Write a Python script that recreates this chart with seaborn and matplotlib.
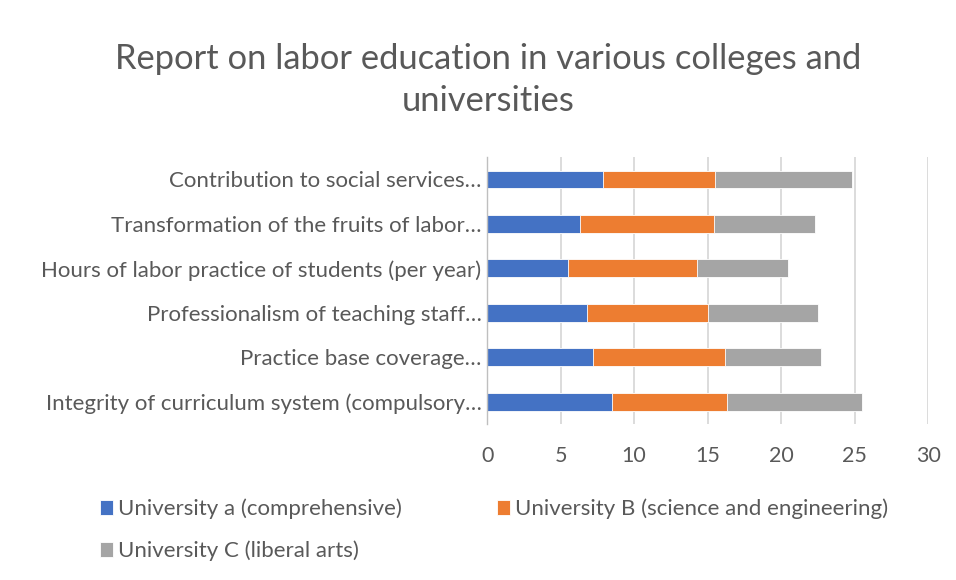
import matplotlib
matplotlib.use("Agg")
import matplotlib.pyplot as plt
from matplotlib.patches import Rectangle
from matplotlib.legend_handler import HandlerPatch
import seaborn as sns
import pandas as pd
import numpy as np

categories = [
    "Contribution to social services…",
    "Transformation of the fruits of labor…",
    "Hours of labor practice of students (per year)",
    "Professionalism of teaching staff…",
    "Practice base coverage…",
    "Integrity of curriculum system (compulsory…",
]
univ_a = [7.9, 6.3, 5.5, 6.8, 7.2, 8.5]
univ_b = [7.6, 9.1, 8.8, 8.2, 9.0, 7.8]
univ_c = [9.3, 6.9, 6.2, 7.5, 6.5, 9.2]
series_names = ["University a (comprehensive)",
                "University B (science and engineering)",
                "University C (liberal arts)"]
colors = ["#4472C4", "#ED7D31", "#A5A5A5"]

sns.set_theme(style="white")
plt.rcParams['font.family'] = ['Lato', 'DejaVu Sans']
text_color = "#595959"

df = pd.DataFrame({"cat": categories, "a": univ_a, "b": univ_b, "c": univ_c})
df["ab"] = df["a"] + df["b"]
df["abc"] = df["ab"] + df["c"]

fig = plt.figure(figsize=(9.56, 5.8), dpi=100)
ax = fig.add_axes([0.5095, 0.269, 0.4614, 0.46])

for col, color, name in [("abc", colors[2], series_names[2]),
                         ("ab", colors[1], series_names[1]),
                         ("a", colors[0], series_names[0])]:
    sns.barplot(data=df, y="cat", x=col, order=categories, color=color,
                width=0.4, ax=ax, label=name, edgecolor="white", linewidth=0.6,
                saturation=1)

ax.set_xlim(0, 30)
ax.set_xticks([0, 5, 10, 15, 20, 25, 30])
ax.set_xlabel("")
ax.set_ylabel("")
ax.grid(axis="x", color="#D9D9D9", linewidth=1.3)
ax.set_axisbelow(True)
for s in ["top", "right", "bottom"]:
    ax.spines[s].set_visible(False)
ax.spines["left"].set_color("#BFBFBF")
ax.spines["left"].set_linewidth(1.0)
ax.tick_params(axis="x", length=0, pad=16, labelsize=15.5, labelcolor=text_color)
ax.tick_params(axis="y", length=0, pad=4, labelsize=16, labelcolor=text_color)

fig.suptitle("Report on labor education in various colleges and\nuniversities",
             x=0.511, y=0.926, fontsize=24.8, color=text_color, linespacing=1.4)


def square_patch(legend, orig_handle, xdescent, ydescent, width, height, fontsize):
    s = 0.58 * fontsize
    yc = 0.33 * fontsize
    return Rectangle((0, yc - s / 2), s, s)


handles, labels = ax.get_legend_handles_labels()
hmap = dict(zip(labels, handles))
leg_names = [series_names[0], series_names[2], series_names[1]]
if ax.get_legend():
    ax.get_legend().remove()
fig.legend([hmap[n] for n in leg_names], leg_names, loc="upper left",
           bbox_to_anchor=(0.1045, 0.14), ncol=2, frameon=False,
           fontsize=16, labelcolor=text_color, borderpad=0, borderaxespad=0,
           handlelength=0.58, handleheight=0.7, handletextpad=0.25,
           columnspacing=4.25, labelspacing=0.95,
           handler_map={Rectangle: HandlerPatch(patch_func=square_patch)})

fig.savefig("out.png", dpi=100, facecolor="white")
